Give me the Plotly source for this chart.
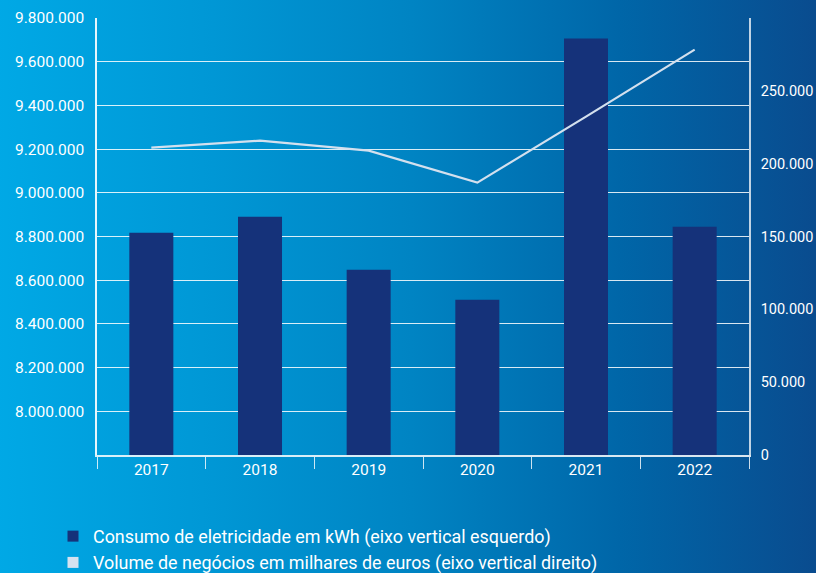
import base64
import plotly.graph_objects as go

years = ["2017", "2018", "2019", "2020", "2021", "2022"]
consumo_kwh = [8817000, 8890000, 8648000, 8510000, 9706000, 8845000]
volume_negocios = [211000, 215800, 208900, 187000, 232300, 278300]
left_ticks = [8000000, 8200000, 8400000, 8600000, 8800000, 9000000, 9200000, 9400000, 9600000, 9800000]
right_ticks = [0, 50000, 100000, 150000, 200000, 250000]
legend_names = ["Consumo de eletricidade em kWh (eixo vertical esquerdo)",
                "Volume de negócios em milhares de euros (eixo vertical direito)"]

BAR = "#15327a"
LINE = "#d3e0ee"
FONT = "Roboto"

svg = ('<svg xmlns="http://www.w3.org/2000/svg" width="816" height="573" preserveAspectRatio="none">'
       '<defs><linearGradient id="g" x1="0" y1="0" x2="1" y2="0">'
       '<stop offset="0" stop-color="#00a9e6"/>'
       '<stop offset="0.25" stop-color="#0098d6"/>'
       '<stop offset="0.5" stop-color="#0084c3"/>'
       '<stop offset="0.75" stop-color="#0066a8"/>'
       '<stop offset="1" stop-color="#0a4a8d"/>'
       '</linearGradient></defs><rect width="816" height="573" fill="url(#g)"/></svg>')
bg_uri = "data:image/svg+xml;base64," + base64.b64encode(svg.encode()).decode()

L, R, T, B = 97, 67, 18, 118
W, H = 816, 573
pw, ph = W - L - R, H - T - B

fig = go.Figure()
fig.add_trace(go.Bar(x=years, y=consumo_kwh, marker_color=BAR, marker_line_width=0,
                     width=0.405, showlegend=False, yaxis="y", hoverinfo="x+y"))
fig.add_trace(go.Scatter(x=years, y=volume_negocios, mode="lines",
                         line=dict(color=LINE, width=2.2), showlegend=False, yaxis="y2"))
# legend entries with square symbols
fig.add_trace(go.Scatter(x=[None], y=[None], mode="markers", name=legend_names[0],
                         marker=dict(symbol="square", size=11, color=BAR,
                                     line=dict(width=0))))
fig.add_trace(go.Scatter(x=[None], y=[None], mode="markers", name=legend_names[1],
                         marker=dict(symbol="square", size=11, color="#d6e2f0",
                                     line=dict(width=0)), yaxis="y2"))

fig.update_layout(
    width=W, height=H,
    margin=dict(l=L, r=R, t=T, b=B, autoexpand=False),
    paper_bgcolor="#0a4a8d",
    plot_bgcolor="rgba(0,0,0,0)",
    separators=",.",
    font=dict(family=FONT, size=16, color="white"),
    images=[dict(source=bg_uri, xref="paper", yref="paper",
                 x=-L / pw - 0.01, y=1 + T / ph + 0.01,
                 sizex=W / pw + 0.03, sizey=H / ph + 0.03,
                 sizing="stretch", layer="below", xanchor="left", yanchor="top")],
    xaxis=dict(type="category", tickson="boundaries", ticks="outside", ticklen=12,
               tickcolor="rgba(255,255,255,0.8)", tickwidth=1,
               showline=True, linecolor="rgba(255,255,255,0.85)", linewidth=1.5,
               showgrid=False, tickfont=dict(size=15.5, color="white"),
               range=[-0.5, 5.5], automargin=False),
    yaxis=dict(range=[7800000, 9800000], tickvals=left_ticks, tickformat=",d",
               showgrid=True, gridcolor="rgba(255,255,255,0.85)", gridwidth=1.3,
               showline=True, linecolor="rgba(255,255,255,0.9)", linewidth=1.5,
               zeroline=False, ticks="", ticklabelstandoff=8, automargin=False,
               tickfont=dict(size=15.5, color="white")),
    yaxis2=dict(range=[0, 300000], overlaying="y", side="right", tickvals=right_ticks,
                tickformat=",d", showgrid=False, zeroline=False,
                showline=True, linecolor="rgba(255,255,255,0.75)", linewidth=1.5,
                ticks="", ticklabelstandoff=7, automargin=False,
                tickfont=dict(size=14.5, color="white")),
    legend=dict(x=53 / W, xref="container", xanchor="left",
                y=1 - 518 / H, yref="container", yanchor="top",
                orientation="v", bgcolor="rgba(0,0,0,0)",
                font=dict(size=17.9, color="white"), tracegroupgap=0,
                itemwidth=30),
)

fig.write_html(
    "out.html",
    config={"displayModeBar": False},
    post_script="document.body.style.margin='0';document.body.style.padding='0';"
                "document.body.style.overflow='hidden';",
)
